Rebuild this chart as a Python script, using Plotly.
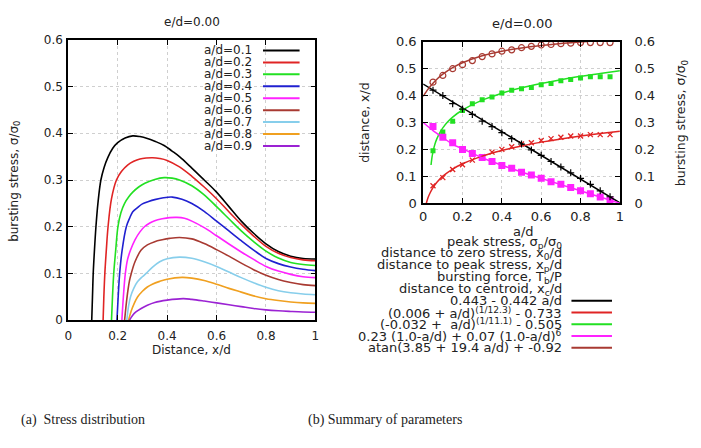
import plotly.graph_objects as go

W, H = 701, 448

# ---------------- Data: left panel (bursting stress vs x/d) ----------------
ad_labels = ["a/d=0.1", "a/d=0.2", "a/d=0.3", "a/d=0.4", "a/d=0.5",
             "a/d=0.6", "a/d=0.7", "a/d=0.8", "a/d=0.9"]
curve_colors = ["#000000", "#e02424", "#22e022", "#2020d0", "#ff22ff",
                "#a83a32", "#87ceeb", "#f0a020", "#9b22d3"]

x_01 = [0.095, 0.098, 0.101, 0.106, 0.112, 0.12, 0.132, 0.145, 0.16, 0.18, 0.20, 0.23, 0.261, 0.29, 0.32,
        0.35, 0.388, 0.42, 0.45, 0.5, 0.55, 0.6, 0.65, 0.7, 0.75, 0.8, 0.85, 0.9, 0.95, 1.0]
y_01 = [0.0, 0.05, 0.1, 0.15, 0.2, 0.25, 0.3, 0.327, 0.348, 0.368, 0.38, 0.39, 0.3945, 0.393, 0.389,
        0.383, 0.374, 0.362, 0.35, 0.3255, 0.300, 0.274, 0.243, 0.212, 0.186, 0.1635, 0.147, 0.137, 0.132, 0.131]
x_02 = [0.141, 0.144, 0.148, 0.154, 0.161, 0.175, 0.195, 0.215, 0.24, 0.265, 0.29, 0.315, 0.341, 0.37,
        0.4, 0.45, 0.5, 0.55, 0.6, 0.65, 0.7, 0.75, 0.8, 0.85, 0.9, 0.95, 1.0]
y_02 = [0.0, 0.05, 0.1, 0.15, 0.2, 0.26, 0.3, 0.318, 0.332, 0.34, 0.345, 0.347, 0.3476, 0.346,
        0.342, 0.328, 0.308, 0.285, 0.26, 0.232, 0.205, 0.18, 0.158, 0.143, 0.134, 0.129, 0.127]
x_03 = [0.175, 0.179, 0.184, 0.192, 0.201, 0.213, 0.228, 0.245, 0.261, 0.285, 0.31, 0.35, 0.388, 0.42,
        0.45, 0.5, 0.55, 0.6, 0.65, 0.7, 0.75, 0.8, 0.85, 0.9, 0.95, 1.0]
y_03 = [0.0, 0.05, 0.1, 0.15, 0.2, 0.23, 0.25, 0.264, 0.274, 0.285, 0.293, 0.301, 0.305, 0.304,
        0.300, 0.2876, 0.268, 0.243, 0.217, 0.191, 0.168, 0.1476, 0.133, 0.1235, 0.119, 0.117]
x_04 = [0.197, 0.202, 0.208, 0.218, 0.235, 0.248, 0.261, 0.28, 0.3, 0.325, 0.35, 0.385, 0.421, 0.46,
        0.5, 0.55, 0.6, 0.65, 0.7, 0.75, 0.8, 0.85, 0.9, 0.95, 1.0]
y_04 = [0.0, 0.05, 0.1, 0.15, 0.2, 0.218, 0.232, 0.241, 0.249, 0.254, 0.258, 0.262, 0.2634, 0.259,
        0.2497, 0.233, 0.212, 0.191, 0.17, 0.15, 0.132, 0.121, 0.1138, 0.109, 0.106]
x_05 = [0.217, 0.223, 0.231, 0.24, 0.252, 0.27, 0.29, 0.308, 0.33, 0.35, 0.38, 0.41, 0.44, 0.47,
        0.5, 0.55, 0.6, 0.65, 0.7, 0.75, 0.8, 0.85, 0.9, 0.95, 1.0]
y_05 = [0.0, 0.05, 0.1, 0.13, 0.15, 0.172, 0.189, 0.2, 0.208, 0.213, 0.217, 0.2195, 0.22, 0.218,
        0.212, 0.198, 0.1807, 0.163, 0.146, 0.13, 0.115, 0.105, 0.098, 0.093, 0.091]
x_06 = [0.228, 0.238, 0.248, 0.255, 0.27, 0.295, 0.32, 0.35, 0.38, 0.41, 0.45, 0.5, 0.55, 0.6, 0.65,
        0.7, 0.75, 0.8, 0.85, 0.9, 0.95, 1.0]
y_06 = [0.0, 0.05, 0.085, 0.1, 0.125, 0.15, 0.161, 0.168, 0.172, 0.175, 0.177, 0.174, 0.164, 0.151, 0.137,
        0.122, 0.108, 0.096, 0.087, 0.0807, 0.076, 0.0738]
x_07 = [0.237, 0.244, 0.252, 0.265, 0.28, 0.3, 0.315, 0.34, 0.37, 0.4, 0.45, 0.5, 0.55, 0.6, 0.65,
        0.7, 0.75, 0.8, 0.85, 0.9, 0.95, 1.0]
y_07 = [0.0, 0.03, 0.05, 0.068, 0.082, 0.093, 0.1, 0.113, 0.125, 0.1315, 0.135, 0.1324, 0.125, 0.115, 0.103,
        0.091, 0.08, 0.0703, 0.063, 0.0586, 0.056, 0.0545]
x_08 = [0.244, 0.255, 0.267, 0.281, 0.3, 0.32, 0.34, 0.37, 0.4, 0.46, 0.5, 0.55, 0.6, 0.65, 0.7,
        0.75, 0.8, 0.85, 0.9, 0.95, 1.0]
y_08 = [0.0, 0.02, 0.036, 0.05, 0.062, 0.071, 0.077, 0.083, 0.0876, 0.0915, 0.09, 0.085, 0.077, 0.068, 0.06,
        0.052, 0.046, 0.042, 0.039, 0.037, 0.036]
x_09 = [0.248, 0.26, 0.275, 0.295, 0.32, 0.35, 0.4, 0.465, 0.5, 0.55, 0.6, 0.65, 0.7, 0.75, 0.8,
        0.85, 0.9, 0.95, 1.0]
y_09 = [0.0, 0.01, 0.018, 0.025, 0.032, 0.038, 0.0428, 0.046, 0.0445, 0.041, 0.037, 0.033, 0.029, 0.025, 0.022,
        0.020, 0.0186, 0.0175, 0.017]

curves_x = [x_01, x_02, x_03, x_04, x_05, x_06, x_07, x_08, x_09]
curves_y = [y_01, y_02, y_03, y_04, y_05, y_06, y_07, y_08, y_09]

# ---------------- Data: right panel (summary of parameters) ----------------
a_pts = [0.05, 0.1, 0.15, 0.2, 0.25, 0.3, 0.35, 0.4, 0.45, 0.5,
         0.55, 0.6, 0.65, 0.7, 0.75, 0.8, 0.85, 0.9, 0.95]
peak_stress = [0.42, 0.40, 0.37, 0.35, 0.33, 0.305, 0.285, 0.262, 0.24, 0.22,
               0.198, 0.178, 0.155, 0.135, 0.113, 0.092, 0.07, 0.046, 0.024]
x_zero = [0.065, 0.095, 0.125, 0.143, 0.16, 0.173, 0.19, 0.20, 0.21, 0.22,
          0.225, 0.233, 0.24, 0.245, 0.25, 0.25, 0.255, 0.255, 0.255]
x_peak = [0.195, 0.265, 0.305, 0.345, 0.37, 0.385, 0.395, 0.41, 0.42, 0.425,
          0.43, 0.44, 0.445, 0.455, 0.46, 0.465, 0.47, 0.47, 0.47]
burst_force = [0.285, 0.245, 0.225, 0.2, 0.185, 0.17, 0.155, 0.14, 0.13, 0.115,
               0.105, 0.093, 0.08, 0.07, 0.058, 0.046, 0.035, 0.023, 0.012]
x_centroid = [0.45, 0.475, 0.5, 0.515, 0.53, 0.545, 0.555, 0.565, 0.57, 0.578,
              0.583, 0.588, 0.59, 0.593, 0.595, 0.597, 0.597, 0.597, 0.597]

fit_black_a = [0.0, 0.5, 1.0]
fit_black_y = [0.443, 0.222, 0.001]
fit_red_a = [0.016, 0.025, 0.035, 0.05, 0.07, 0.1, 0.15, 0.2, 0.3, 0.4, 0.5, 0.6, 0.7, 0.8, 0.9, 1.0]
fit_red_y = [0.0, 0.021, 0.038, 0.058, 0.078, 0.1005, 0.1268, 0.1465, 0.175, 0.196, 0.213, 0.227, 0.239, 0.2496, 0.259, 0.2675]
fit_green_a = [0.04, 0.045, 0.05, 0.06, 0.07, 0.085, 0.1, 0.125, 0.15, 0.2, 0.3, 0.4, 0.5, 0.6, 0.7, 0.8, 0.9, 1.0]
fit_green_y = [0.142, 0.171, 0.191, 0.220, 0.240, 0.2625, 0.28, 0.3024, 0.320, 0.3465, 0.383, 0.409, 0.429, 0.445, 0.459, 0.4715, 0.482, 0.492]
fit_mag_a = [0.0, 0.05, 0.1, 0.15, 0.2, 0.3, 0.4, 0.5, 0.6, 0.7, 0.8, 0.9, 1.0]
fit_mag_y = [0.30, 0.270, 0.244, 0.2189, 0.2024, 0.169, 0.1413, 0.116, 0.0923, 0.069, 0.046, 0.023, 0.0]
fit_brown_a = [0.0, 0.025, 0.05, 0.075, 0.1, 0.15, 0.2, 0.3, 0.4, 0.5, 0.6, 0.7, 0.8, 0.9, 1.0]
fit_brown_y = [0.397, 0.424, 0.446, 0.4645, 0.480, 0.504, 0.522, 0.548, 0.565, 0.577, 0.586, 0.5935, 0.599, 0.604, 0.608]

x_ticks = [0, 0.2, 0.4, 0.6, 0.8, 1]
x_tick_text = ["0", "0.2", "0.4", "0.6", "0.8", "1"]
y_ticks = [0, 0.1, 0.2, 0.3, 0.4, 0.5, 0.6]
y_tick_text = ["0", "0.1", "0.2", "0.3", "0.4", "0.5", "0.6"]

legend_right_text = [
    "peak stress, σ<sub>p</sub>/σ<sub>0</sub>",
    "distance to zero stress, x<sub>0</sub>/d",
    "distance to peak stress, x<sub>p</sub>/d",
    "bursting force, T<sub>b</sub>/P",
    "distance to centroid, x<sub>c</sub>/d",
    "0.443 - 0.442 a/d",
    "(0.006 + a/d)<sup>(1/12.3)</sup> - 0.733",
    "(-0.032 +&nbsp; a/d)<sup>(1/11.1)</sup> - 0.505",
    "0.23 (1.0-a/d) + 0.07 (1.0-a/d)<sup>6</sup>",
    "atan(3.85 + 19.4 a/d) + -0.92",
]

# ---------------- Styles ----------------
BLACK = "#000000"
RED = "#e02424"
GREEN = "#22e022"
MAGENTA = "#ff22ff"
BROWN = "#a83a32"
TXT = "#222222"
FONT = "DejaVu Sans"

# right panel pixel frame (for placing the legend outside the axes)
R_X0, R_X1, R_Y0, R_Y1 = 424, 623, 203, 36


def px(x):
    return x / W


def py(y):
    return 1 - y / H


fig = go.Figure()

# left curves
for xs, ys, c, name in zip(curves_x, curves_y, curve_colors, ad_labels):
    fig.add_trace(go.Scatter(x=xs, y=ys, mode="lines", name=name,
                             line=dict(color=c, width=1.6, shape="spline", smoothing=1.0),
                             xaxis="x", yaxis="y", showlegend=False))

# right panel markers
mk = [
    (peak_stress, dict(symbol="cross-thin-open", size=5, color=BLACK, line=dict(color=BLACK, width=1.2)), "y3"),
    (x_zero, dict(symbol="x-thin-open", size=5, color=RED, line=dict(color=RED, width=1.3)), "y2"),
    (x_peak, dict(symbol="square", size=5, color=GREEN, line=dict(width=0)), "y2"),
    (burst_force, dict(symbol="square", size=7, color=MAGENTA, line=dict(width=0)), "y2"),
    (x_centroid, dict(symbol="circle-open", size=6, color=BROWN, line=dict(color=BROWN, width=1.2)), "y2"),
]
for ys, m, ya in mk:
    fig.add_trace(go.Scatter(x=a_pts, y=ys, mode="markers", marker=m,
                             xaxis="x2", yaxis=ya, showlegend=False))

fits = [
    (fit_black_a, fit_black_y, BLACK),
    (fit_red_a, fit_red_y, RED),
    (fit_green_a, fit_green_y, GREEN),
    (fit_mag_a, fit_mag_y, MAGENTA),
    (fit_brown_a, fit_brown_y, BROWN),
]
for xs, ys, c in fits:
    fig.add_trace(go.Scatter(x=xs, y=ys, mode="lines",
                             line=dict(color=c, width=1.5, shape="spline", smoothing=0.8),
                             xaxis="x2", yaxis="y2", showlegend=False))

# ---------------- Legends (custom, text right-aligned with sample on the right) ----------------
annotations = []
shapes = []

for i, (name, c) in enumerate(zip(ad_labels, curve_colors)):
    yy = 45 + 12.35 * i
    annotations.append(dict(text=name, x=px(253), y=py(yy), xref="paper", yref="paper",
                            xanchor="right", yanchor="middle", showarrow=False,
                            font=dict(family=FONT, size=12, color=TXT)))
    shapes.append(dict(type="line", xref="paper", yref="paper",
                       x0=px(262), x1=px(299), y0=py(yy), y1=py(yy),
                       line=dict(color=c, width=2)))

right_colors = [BLACK, RED, GREEN, MAGENTA, BROWN]
for i, t in enumerate(legend_right_text):
    yy = 243.3 + 12.15 * i
    annotations.append(dict(text=t, x=px(566), y=py(yy), xref="paper", yref="paper",
                            xanchor="right", yanchor="middle", showarrow=False,
                            font=dict(family=FONT, size=13, color=TXT)))
    if i >= 5:
        shapes.append(dict(type="line", xref="paper", yref="paper",
                           x0=px(574), x1=px(615), y0=py(yy), y1=py(yy),
                           line=dict(color=right_colors[i - 5], width=2)))

# legend marker samples drawn outside the right axes (cliponaxis off)
for i, (ys, m, ya) in enumerate(mk):
    yy = 243.3 + 12.15 * i
    lx = (595 - R_X0) / (R_X1 - R_X0)
    ly = (R_Y0 - yy) / (R_Y0 - R_Y1) * 0.6
    fig.add_trace(go.Scatter(x=[lx], y=[ly], mode="markers", marker=m,
                             xaxis="x2", yaxis="y2", showlegend=False, hoverinfo="skip",
                             cliponaxis=False))


def ann(text, x, y, size=12, angle=0, family=FONT, xanchor="center"):
    annotations.append(dict(text=text, x=px(x), y=py(y), xref="paper", yref="paper",
                            xanchor=xanchor, yanchor="middle", showarrow=False, textangle=angle,
                            font=dict(family=family, size=size, color=TXT)))


ann("e/d=0.00", 190, 16)
ann("e/d=0.00", 524, 17, size=13)
ann("bursting stress, σ/σ<sub>0</sub>", 11, 180, angle=-90)
ann("Distance, x/d", 190, 355)
ann("distance, x/d", 365, 120, angle=-90, size=12.5)
ann("bursting stress, σ/σ<sub>0</sub>", 686, 120, angle=-90, size=12.5)
ann("a/d", 526, 232, size=13)
ann("(a)&nbsp; Stress distribution", 15, 427, size=14, family="Liberation Serif", xanchor="left")
ann("(b) Summary of parameters", 305, 427, size=14, family="Liberation Serif", xanchor="left")

axis_common = dict(showline=True, linecolor=BLACK, linewidth=1.8, ticks="inside",
                   ticklen=5, tickwidth=1, tickcolor=BLACK,
                   zeroline=False, fixedrange=True)
grid = dict(showgrid=True, gridcolor="#cfcfcf", griddash="dot", gridwidth=1)
f_left = dict(family=FONT, size=12, color=TXT)
f_right = dict(family=FONT, size=13, color=TXT)

fig.update_layout(
    width=W, height=H, margin=dict(l=0, r=0, t=0, b=0),
    paper_bgcolor="white", plot_bgcolor="rgba(0,0,0,0)", showlegend=False,
    xaxis=dict(domain=[px(65), px(315)], range=[0, 1], anchor="y", mirror="ticks",
               tickvals=x_ticks, ticktext=x_tick_text, tickfont=f_left, ticklabelstandoff=4,
               **axis_common, **grid),
    yaxis=dict(domain=[py(324), py(34)], range=[0, 0.6], anchor="x", mirror="ticks",
               tickvals=y_ticks, ticktext=y_tick_text, tickfont=f_left, ticklabelstandoff=1,
               **axis_common, **grid),
    xaxis2=dict(domain=[px(R_X0), px(R_X1)], range=[0, 1], anchor="y2", mirror="ticks",
                tickvals=x_ticks, ticktext=x_tick_text, tickfont=f_right,
                **axis_common, **grid),
    yaxis2=dict(domain=[py(R_Y0), py(R_Y1)], range=[0, 0.6], anchor="x2", mirror=True,
                tickvals=y_ticks, ticktext=y_tick_text, tickfont=f_right, ticklabelstandoff=2,
                **axis_common, **grid),
    yaxis3=dict(range=[0, 0.6], anchor="x2", overlaying="y2", side="right",
                tickvals=y_ticks, ticktext=y_tick_text, showgrid=False, tickfont=f_right,
                ticklabelstandoff=10, **axis_common),
    annotations=annotations,
    shapes=shapes,
)

fig.write_html("out.html")
